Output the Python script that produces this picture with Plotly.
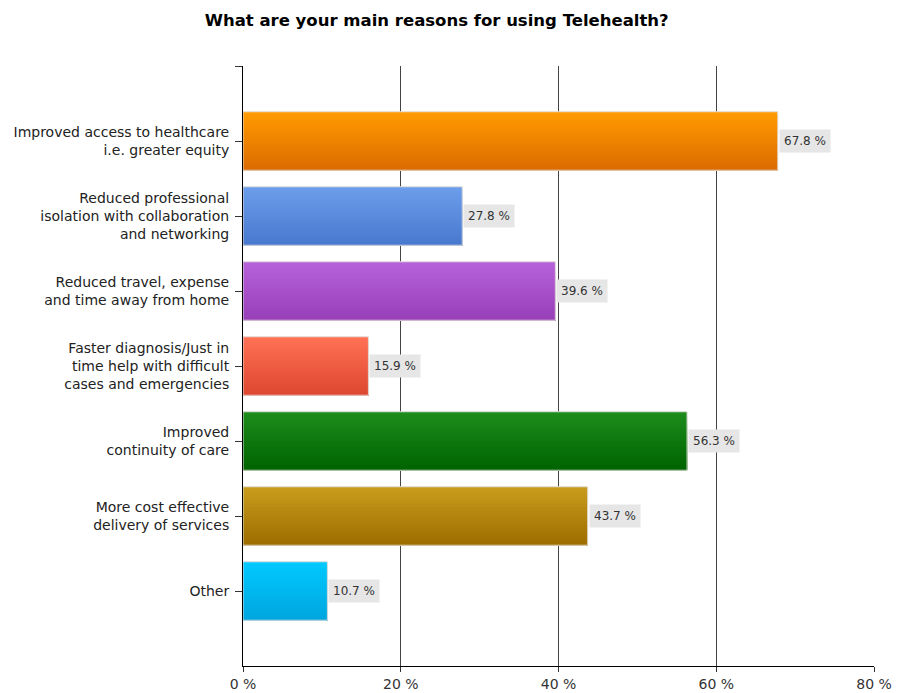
import plotly.graph_objects as go

# Survey results: main reasons for using Telehealth (% of respondents)
categories = [
    "Improved access to healthcare<br>i.e. greater equity",
    "Reduced professional<br>isolation with collaboration<br>and networking",
    "Reduced travel, expense<br>and time away from home",
    "Faster diagnosis/Just in<br>time help with difficult<br>cases and emergencies",
    "Improved<br>continuity of care",
    "More cost effective<br>delivery of services",
    "Other",
]
values = [67.8, 27.8, 39.6, 15.9, 56.3, 43.7, 10.7]

# top / bottom colours of each bar's vertical gradient
top_colors = ["#FF9A00", "#6C9DEA", "#B660DA", "#FF7055", "#1C8C1C", "#C99B1C", "#00C9FF"]
bottom_colors = ["#DC6C00", "#4879CF", "#9840B8", "#DE4830", "#006400", "#9E6E00", "#00A6DF"]

x_ticks = [0, 20, 40, 60, 80]
x_tick_text = ["0 %", "20 %", "40 %", "60 %", "80 %"]


def hex_to_rgb(h):
    h = h.lstrip("#")
    return tuple(int(h[i:i + 2], 16) for i in (0, 2, 4))


def mix(c1, c2, t):
    a, b = hex_to_rgb(c1), hex_to_rgb(c2)
    return "rgb(%d,%d,%d)" % tuple(round(a[i] + (b[i] - a[i]) * t) for i in range(3))


ypos = list(range(len(categories)))
bar_w = 0.78
n_strips = 20

fig = go.Figure()

# gradient: stacked strips, each running from its top edge to the bar bottom
for k in range(n_strips):
    t = k / (n_strips - 1)
    fig.add_trace(go.Bar(
        x=values, y=ypos, orientation="h",
        offset=-bar_w / 2 + k * bar_w / n_strips,
        width=bar_w - k * bar_w / n_strips,
        marker=dict(color=[mix(tc, bc, t) for tc, bc in zip(top_colors, bottom_colors)],
                    line=dict(width=0)),
        hoverinfo="skip", showlegend=False,
    ))

# thin light outline around each bar
fig.add_trace(go.Bar(
    x=values, y=ypos, orientation="h",
    offset=-bar_w / 2, width=bar_w,
    marker=dict(color="rgba(0,0,0,0)", line=dict(color="#E2DDD8", width=1)),
    hoverinfo="skip", showlegend=False,
))

# value labels in grey boxes
for v, y in zip(values, ypos):
    fig.add_annotation(
        x=v, y=y, text=f"{v:.1f} %", showarrow=False,
        xanchor="left", yanchor="middle", xshift=1,
        bgcolor="#E6E6E6", borderpad=4,
        font=dict(family="DejaVu Sans", size=12, color="#333333"),
    )

fig.update_layout(
    width=906, height=693,
    margin=dict(l=243, r=32, t=66, b=27, autoexpand=False),
    paper_bgcolor="white", plot_bgcolor="white",
    barmode="overlay",
    title=dict(text="<b>What are your main reasons for using Telehealth?</b>",
               x=0.482, xanchor="center", y=0.971, yanchor="middle",
               font=dict(family="DejaVu Sans", size=16.5, color="black")),
    font=dict(family="DejaVu Sans", size=13, color="#222222"),
)

fig.update_xaxes(
    range=[0, 80], tickvals=x_ticks, ticktext=x_tick_text,
    showgrid=True, gridcolor="#444444", gridwidth=1,
    showline=True, linecolor="black", linewidth=1,
    ticks="outside", ticklen=5, tickcolor="#333333",
    zeroline=False, fixedrange=True, automargin=False,
    tickfont=dict(size=14, color="#333333"),
)

fig.update_yaxes(
    range=[7, -1],
    tickvals=[-1] + ypos, ticktext=[""] + categories,
    showgrid=False, showline=True, linecolor="black", linewidth=1,
    ticks="outside", ticklen=7, tickcolor="#333333", ticklabelstandoff=3,
    zeroline=False, fixedrange=True, automargin=False,
    tickfont=dict(size=14, color="#222222"),
)

fig.write_html("out.html")
